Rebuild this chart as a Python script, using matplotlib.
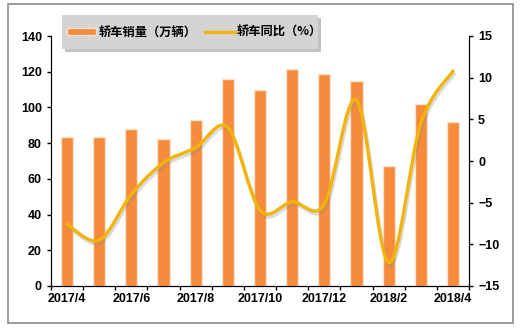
import matplotlib

matplotlib.use("Agg")
import matplotlib.pyplot as plt  # noqa: E402
import numpy as np  # noqa: E402
from matplotlib.lines import Line2D  # noqa: E402
from matplotlib.patches import PathPatch, Rectangle  # noqa: E402
from matplotlib.path import Path  # noqa: E402
import matplotlib.patheffects as pe  # noqa: E402

plt.rcParams["font.family"] = ["Liberation Sans", "Noto Sans CJK SC", "DejaVu Sans"]

months = ["2017/4", "2017/5", "2017/6", "2017/7", "2017/8", "2017/9", "2017/10",
          "2017/11", "2017/12", "2018/1", "2018/2", "2018/3", "2018/4"]
sales = [83.5, 83.5, 88, 82.5, 93, 116, 110, 121.5, 119, 115, 67, 102, 92]
yoy = [-7.6, -9.5, -4.0, -0.2, 1.6, 4.0, -5.9, -4.9, -5.2, 7.3, -12.2, 4.5, 10.8]

BAR = "#F68B3C"
LINE = "#F2B30A"
W, H = 520, 332

fig = plt.figure(figsize=(5.2, 3.32), dpi=100)
fig.patches.append(Rectangle((8 / W, 1 - 323 / H), 505 / W, 319 / H,
                             transform=fig.transFigure, fill=False,
                             edgecolor="#8C8C8C", lw=1.2))

ax = fig.add_axes([51 / W, 1 - 286 / H, 418 / W, 250 / H])
x = np.arange(len(months))
ax.bar(x, sales, width=0.38, color=BAR, edgecolor="#FBE3CF", lw=1.0, zorder=2)
ax.set_xlim(-0.5, len(months) - 0.5)
ax.set_ylim(0, 140)
ax.set_yticks(range(0, 141, 20))

ax.set_xticks(x[::2])
ax.set_xticklabels(months[::2])
ax.set_xticks(np.arange(-0.5, len(months), 1), minor=True)
ax.tick_params(axis="x", which="major", length=0, pad=5)
ax.tick_params(axis="x", which="minor", length=3, width=1)
ax.tick_params(axis="y", length=3, width=1)

ax2 = ax.twinx()
ax2.set_ylim(-15, 15)
ax2.set_yticks(range(-15, 16, 5))
ax2.tick_params(axis="y", length=3, width=1)

for a in (ax, ax2):
    a.spines["top"].set_visible(False)
    for lab in a.get_xticklabels() + a.get_yticklabels():
        lab.set_fontweight("bold")
        lab.set_fontsize(9)

# smooth curve through the monthly points (Bezier, Excel-like)
pts = np.column_stack([x, yoy]).astype(float)
verts = [tuple(pts[0])]
codes = [Path.MOVETO]
n = len(pts)
for i in range(n - 1):
    p0 = pts[max(i - 1, 0)]
    p1 = pts[i]
    p2 = pts[i + 1]
    p3 = pts[min(i + 2, n - 1)]
    c1 = p1 + (p2 - p0) / 6
    c2 = p2 - (p3 - p1) / 6
    verts += [tuple(c1), tuple(c2), tuple(p2)]
    codes += [Path.CURVE4] * 3
curve = PathPatch(Path(verts, codes), fill=False, edgecolor=LINE, lw=2.4,
                  capstyle="round", zorder=3,
                  path_effects=[pe.SimpleLineShadow(offset=(1, -2), shadow_color="#888888", alpha=0.3),
                                pe.Normal()])
ax2.add_patch(curve)

# legend box with drop shadow
lx, ly, lw_, lh = 62, 15, 256, 34
fig.patches.append(Rectangle(((lx + 3) / W, 1 - (ly + lh + 3) / H), lw_ / W, lh / H,
                             transform=fig.transFigure, facecolor="#9A9A9A",
                             edgecolor="none", alpha=0.6, zorder=5))
fig.patches.append(Rectangle((lx / W, 1 - (ly + lh) / H), lw_ / W, lh / H,
                             transform=fig.transFigure, facecolor="#D4D4D4",
                             edgecolor="none", zorder=6))

handles = [Rectangle((0, 0), 1, 1, facecolor=BAR, edgecolor="#FBE3CF", lw=1.0),
           Line2D([0], [0], color=LINE, lw=2.4)]
leg = fig.legend(handles, ["轿车销量（万辆）", "轿车同比（%）"], ncol=2,
                 loc="center left", bbox_to_anchor=(67 / W, 1 - 32 / H),
                 frameon=False, handlelength=2.4, handleheight=0.5,
                 handletextpad=0.2, columnspacing=0.7, borderpad=0, borderaxespad=0,
                 prop={"family": ["Noto Sans CJK SC", "DejaVu Sans"], "size": 8.8,
                       "weight": "bold"})
leg.set_zorder(7)

fig.savefig("out.png", dpi=100)
